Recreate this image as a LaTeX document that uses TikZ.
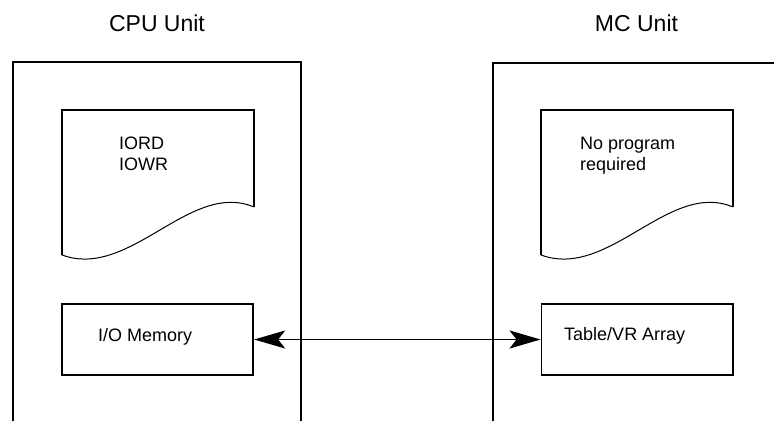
\documentclass[tikz,border=0pt]{standalone}
\usepackage{fontspec}
\setmainfont{Liberation Sans}
\usetikzlibrary{arrows.meta}
\begin{document}
\begin{tikzpicture}[x=1pt,y=-1pt,
  unitline/.style={line width=2pt},
  docline/.style={line width=1.6pt},
  waveline/.style={line width=1pt},
  membox/.style={draw,line width=1.8pt,minimum width=191.5pt,minimum height=71pt,inner sep=0pt},
  titletext/.style={inner sep=0pt,anchor=base,font=\fontsize{23}{26}\selectfont},
  bodytext/.style={inner sep=0pt,anchor=base west,font=\fontsize{18}{20.7}\selectfont},
  link/.style={line width=1.8pt,{Stealth[length=31pt,width=18pt,inset=7pt]}-{Stealth[length=31pt,width=18pt,inset=7pt]}}]
\useasboundingbox (0,0) rectangle (774,421);
% titles
\node[titletext] (cputitle) at (157,31.7) {CPU Unit};
\node[titletext] (mctitle) at (636.5,31.7) {MC Unit};
% unit outlines
\draw[unitline] (13,421) -- (13,62) -- (301,62) -- (301,421);
\draw[unitline] (493,421) -- (493,63) -- (774,63);
% program documents
\foreach \dx/\nm in {0/cpudoc,479/mcdoc}{
  \begin{scope}[xshift=\dx pt]
    \draw[docline] (62,255) -- (62,110) -- (254,110) -- (254,207);
    \draw[waveline] (62,255) .. controls (130,280) and (190,180) .. (254,207);
  \end{scope}
}
\node[bodytext] (iord) at (119,149.3) {IORD};
\node[bodytext] (iowr) at (119,170) {IOWR};
\node[bodytext] (noprog) at (580,149) {No program};
\node[bodytext] (req) at (580,170) {required};
% memory boxes
\node[membox] (iomem) at (157.5,339.5) {};
\node[membox] (table) at (637.2,339.5) {};
\node[bodytext] (iomemtext) at (98,341) {I/O Memory};
\node[bodytext] (tabletext) at (564,340) {Table/VR Array};
% connector
\draw[link] (iomem.east) -- (table.west);
\end{tikzpicture}
\end{document}
